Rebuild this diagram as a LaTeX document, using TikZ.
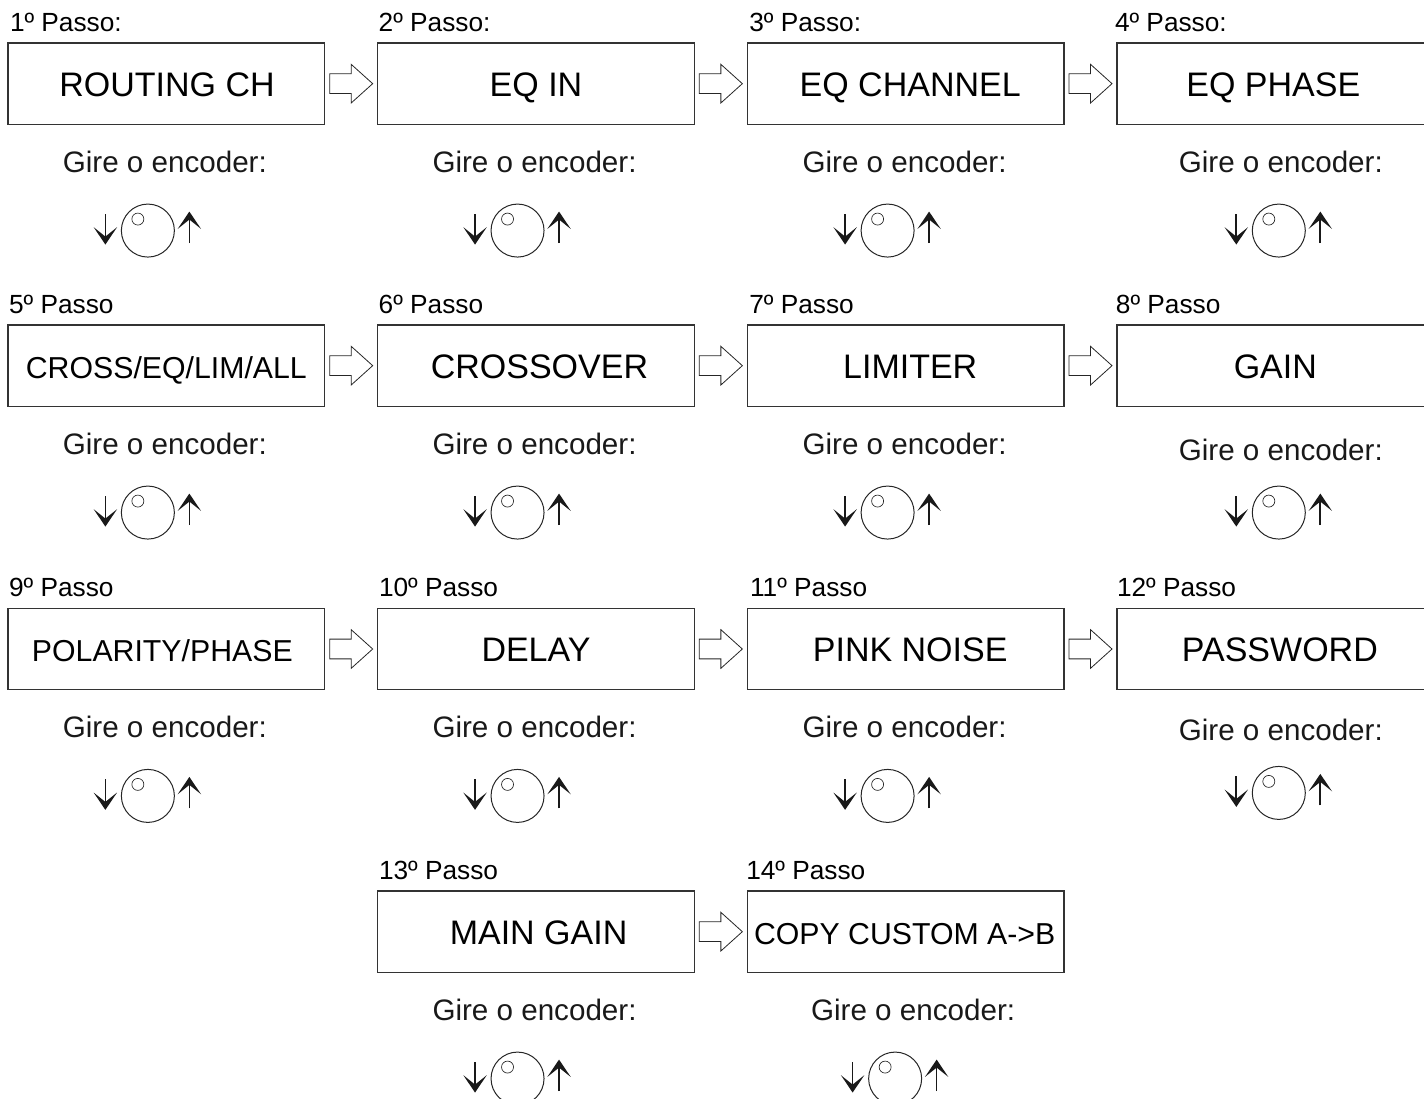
\documentclass[tikz,border=0pt]{standalone}
\usepackage{fontspec}
\setmainfont{Liberation Sans}
\usepackage{tikz}
\usetikzlibrary{arrows.meta,positioning,shapes.arrows,calc}

\tikzset{
  stepbox/.style={rectangle, draw=black!80, line width=0.9pt, outer sep=0pt, inner sep=0pt, text height=18.6pt, text depth=0pt, minimum width=237.5pt, minimum height=61pt, font=\fontsize{25.5}{30}\selectfont},
  steplabel/.style={anchor=south west, inner sep=0pt, outer sep=0pt, font=\fontsize{19.7}{23}\selectfont},
  girelabel/.style={inner sep=0pt, outer sep=0pt, text=black!90, font=\fontsize{22.2}{26}\selectfont},
  nextarrow/.style={single arrow, draw=black!85, line width=0.6pt, outer sep=0pt, inner xsep=0pt, inner ysep=7.1pt, minimum height=32.25pt, minimum width=28.5pt, single arrow head extend=7.1pt, single arrow tip angle=84},
  knob/.style={circle, draw=black!85, line width=0.75pt, outer sep=0pt, inner sep=0pt, minimum size=39.75pt},
  knobdot/.style={circle, draw=black!85, line width=0.5pt, outer sep=0pt, inner sep=0pt, minimum size=9pt},
  turnarrow/.style={line width=1.25pt, black!90, -{Stealth[length=13pt, width=17.5pt, inset=7pt]}}
}

% encoder with its two arrows: name, placement
\newcommand{\encoderknob}[2]{
  \node[knob, #2] (#1) {};
  \node[knobdot] (#1_dot) at ($(#1)+(-10,-11.5)$) {};
  \coordinate (#1_da) at ($(#1)+(-42.5,-16.5)$);
  \coordinate (#1_db) at ($(#1)+(-42.5,14)$);
  \coordinate (#1_ua) at ($(#1)+(41.5,12.5)$);
  \coordinate (#1_ub) at ($(#1)+(41.5,-19)$);
  \draw[turnarrow] (#1_da) -- (#1_db);
  \draw[turnarrow] (#1_ua) -- (#1_ub);
}

\begin{document}
\begin{tikzpicture}[x=0.75pt, y=-0.75pt, node distance=39.75pt and 39.75pt]

\useasboundingbox (0,0) rectangle (1424,1099);
\clip (0,0) rectangle (1424,1099);

% Row 1
\node[stepbox, anchor=north west] (s1) at (8,43) {\hspace*{1pt}ROUTING CH};
\node[stepbox, right=of s1] (s2) {EQ IN};
\node[stepbox, right=of s2] (s3) {\hspace*{6.8pt}EQ CHANNEL};
\node[stepbox, right=of s3] (s4) {EQ PHASE\hspace*{3pt}};

% Row 2
\node[stepbox, below=150.5pt of s1, font=\fontsize{22.7}{28}\selectfont] (s5) {CROSS/EQ/LIM/ALL};
\node[stepbox, right=of s5] (s6) {\hspace*{5.2pt}CROSSOVER};
\node[stepbox, right=of s6] (s7) {\hspace*{6.8pt}LIMITER};
\node[stepbox, right=of s7] (s8) {GAIN};

% Row 3
\node[stepbox, below=151.5pt of s5, font=\fontsize{22.7}{28}\selectfont] (s9) {POLARITY/PHASE\hspace*{6pt}};
\node[stepbox, right=of s9] (s10) {DELAY};
\node[stepbox, right=of s10] (s11) {\hspace*{6.8pt}PINK NOISE};
\node[stepbox, right=of s11] (s12) {\hspace*{6.8pt}PASSWORD};

% Row 4
\node[stepbox, below=151pt of s10] (s13) {\hspace*{3.8pt}MAIN GAIN};
\node[stepbox, right=of s13, font=\fontsize{22.7}{28}\selectfont] (s14) {COPY CUSTOM A->B\hspace*{1.5pt}};

% Step labels
\node[steplabel, above=8.6pt of s1.north west, anchor=south west, xshift=1.5pt] (l1) {1º Passo:};
\node[steplabel, above=8.6pt of s2.north west, anchor=south west, xshift=0.8pt] (l2) {2º Passo:};
\node[steplabel, above=8.6pt of s3.north west, anchor=south west, xshift=1.5pt] (l3) {3º Passo:};
\node[steplabel, above=8.6pt of s4.north west, anchor=south west, xshift=-1.5pt] (l4) {4º Passo:};
\node[steplabel, above=8.6pt of s5.north west, anchor=south west, xshift=0.8pt] (l5) {5º Passo};
\node[steplabel, above=8.6pt of s6.north west, anchor=south west, xshift=0.8pt] (l6) {6º Passo};
\node[steplabel, above=8.6pt of s7.north west, anchor=south west, xshift=1.5pt] (l7) {7º Passo};
\node[steplabel, above=8.6pt of s8.north west, anchor=south west, xshift=-0.8pt] (l8) {8º Passo};
\node[steplabel, above=8.6pt of s9.north west, anchor=south west, xshift=0.8pt] (l9) {9º Passo};
\node[steplabel, above=8.6pt of s10.north west, anchor=south west, xshift=1pt] (l10) {10º Passo};
\node[steplabel, above=8.6pt of s11.north west, anchor=south west, xshift=2pt] (l11) {11º Passo};
\node[steplabel, above=8.6pt of s12.north west, anchor=south west] (l12) {12º Passo};
\node[steplabel, above=8.6pt of s13.north west, anchor=south west, xshift=1pt] (l13) {13º Passo};
\node[steplabel, above=8.6pt of s14.north west, anchor=south west, xshift=-0.8pt] (l14) {14º Passo};

% Block arrows
\node[nextarrow, right=3.75pt of s1] (a1) {};
\node[nextarrow, right=3.75pt of s2] (a2) {};
\node[nextarrow, right=3.75pt of s3] (a3) {};
\node[nextarrow, right=3.75pt of s5] (a4) {};
\node[nextarrow, right=3.75pt of s6] (a5) {};
\node[nextarrow, right=3.75pt of s7] (a6) {};
\node[nextarrow, right=3.75pt of s9] (a7) {};
\node[nextarrow, right=3.75pt of s10] (a8) {};
\node[nextarrow, right=3.75pt of s11] (a9) {};
\node[nextarrow, right=3.75pt of s13] (a10) {};

% Gire o encoder
\node[girelabel, below=20pt of s1, xshift=-1.1pt] (g1) {Gire o encoder:};
\node[girelabel, below=20pt of s2, xshift=-1.1pt] (g2) {Gire o encoder:};
\node[girelabel, below=20pt of s3, xshift=-0.8pt] (g3) {Gire o encoder:};
\node[girelabel, below=20pt of s4, xshift=4.1pt] (g4) {Gire o encoder:};
\node[girelabel, below=20pt of s5, xshift=-1.1pt] (g5) {Gire o encoder:};
\node[girelabel, below=20pt of s6, xshift=-1.1pt] (g6) {Gire o encoder:};
\node[girelabel, below=20pt of s7, xshift=-0.8pt] (g7) {Gire o encoder:};
\node[girelabel, below=24.5pt of s8, xshift=4.1pt] (g8) {Gire o encoder:};
\node[girelabel, below=20pt of s9, xshift=-1.1pt] (g9) {Gire o encoder:};
\node[girelabel, below=20pt of s10, xshift=-1.1pt] (g10) {Gire o encoder:};
\node[girelabel, below=20pt of s11, xshift=-0.8pt] (g11) {Gire o encoder:};
\node[girelabel, below=22.25pt of s12, xshift=4.1pt] (g12) {Gire o encoder:};
\node[girelabel, below=20pt of s13, xshift=-1.1pt] (g13) {Gire o encoder:};
\node[girelabel, below=20pt of s14, xshift=5.6pt] (g14) {Gire o encoder:};

% Encoders
\encoderknob{k1}{below=23.5pt of g1, xshift=-12.75pt}
\encoderknob{k2}{below=23.5pt of g2, xshift=-12.75pt}
\encoderknob{k3}{below=23.5pt of g3, xshift=-12.75pt}
\encoderknob{k4}{below=23.5pt of g4, xshift=-1.5pt}
\encoderknob{k5}{below=23.5pt of g5, xshift=-12.75pt}
\encoderknob{k6}{below=23.5pt of g6, xshift=-12.75pt}
\encoderknob{k7}{below=23.5pt of g7, xshift=-12.75pt}
\encoderknob{k8}{below=19pt of g8, xshift=-1.5pt}
\encoderknob{k9}{below=23.5pt of g9, xshift=-12.75pt}
\encoderknob{k10}{below=23.5pt of g10, xshift=-12.75pt}
\encoderknob{k11}{below=23.5pt of g11, xshift=-12.75pt}
\encoderknob{k12}{below=19pt of g12, xshift=-1.5pt}
\encoderknob{k13}{below=23.5pt of g13, xshift=-12.75pt}
\encoderknob{k14}{below=23.5pt of g14, xshift=-13.5pt}

\end{tikzpicture}
\end{document}
